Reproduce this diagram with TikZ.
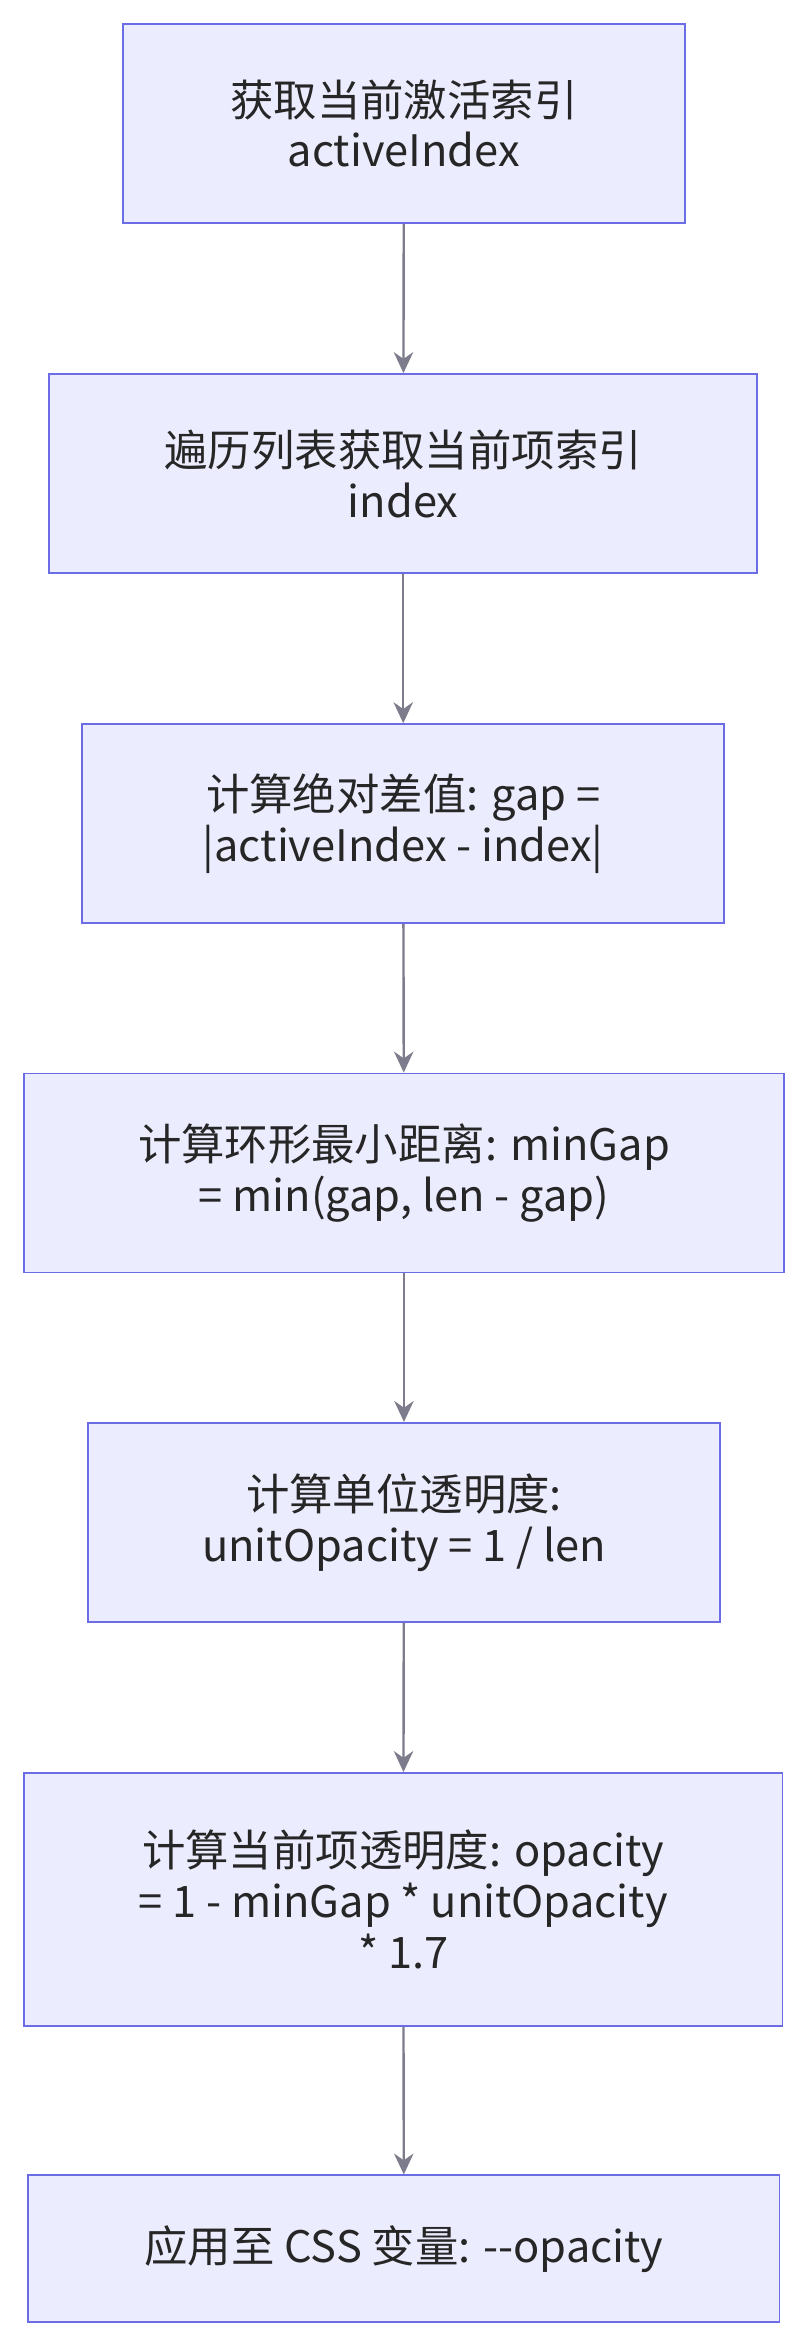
\documentclass[tikz,border=0pt]{standalone}
\usepackage{fontspec}
\setmainfont{Noto Sans CJK SC}
\usetikzlibrary{arrows.meta}
\definecolor{boxfill}{HTML}{ECECFF}
\definecolor{boxdraw}{HTML}{6C6CE6}
\definecolor{arr}{HTML}{7C7C8C}
\begin{document}
\begin{tikzpicture}[x=1pt,y=-1pt,
  box/.style={draw=boxdraw,fill=boxfill,line width=1.3pt,align=center,inner sep=0pt,
    font=\fontsize{29}{34}\selectfont,text=black!85},
  arrow/.style={draw=arr,line width=1.6pt,-{Stealth[length=14pt,width=13pt]}}]
\useasboundingbox (0,0) rectangle (540,1568);
\node[box,minimum width=376pt,minimum height=133pt] (a) at (270,82.5) {获取当前激活索引\\activeIndex};
\node[box,minimum width=473pt,minimum height=133pt] (b) at (269.5,316.5) {遍历列表获取当前项索引\\index};
\node[box,minimum width=429pt,minimum height=133pt] (c) at (269.5,550.5) {计算绝对差值: gap =\\|activeIndex - index|};
\node[box,minimum width=508pt,minimum height=133pt] (d) at (270,784) {计算环形最小距离: minGap\\= min(gap, len - gap)};
\node[box,minimum width=422pt,minimum height=133pt] (e) at (270,1017.5) {计算单位透明度:\\unitOpacity = 1 / len};
\node[box,minimum width=507pt,minimum height=169pt] (f) at (269.5,1269.5) {计算当前项透明度: opacity\\= 1 - minGap * unitOpacity\\* 1.7};
\node[box,minimum width=502pt,minimum height=98pt] (g) at (270,1503) {应用至 CSS 变量: -{}-opacity};
\draw[arrow] (a) -- (b);
\draw[arrow] (b) -- (c);
\draw[arrow] (c) -- (d);
\draw[arrow] (d) -- (e);
\draw[arrow] (e) -- (f);
\draw[arrow] (f) -- (g);
\end{tikzpicture}
\end{document}
